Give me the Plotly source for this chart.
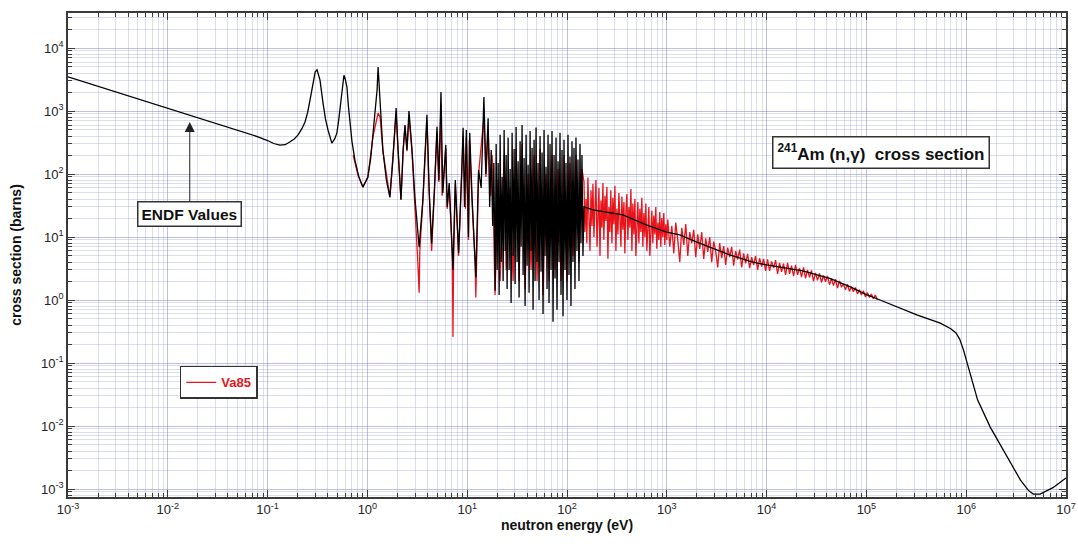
import plotly.graph_objects as go

# ---------------- ENDF evaluated cross section (black) ----------------
endf_E = [
    0.001, 0.002, 0.005, 0.01, 0.02, 0.05, 0.08, 0.1, 0.115, 0.133, 0.15, 0.168, 0.185,
    0.202, 0.22, 0.237, 0.252, 0.266, 0.285, 0.3, 0.313, 0.325, 0.335, 0.359, 0.38, 0.403,
    0.44, 0.47, 0.495, 0.52, 0.543, 0.565, 0.582, 0.6, 0.624, 0.645, 0.668, 0.7, 0.75, 0.82,
    0.9, 1.01, 1.08, 1.14, 1.2, 1.25, 1.28, 1.31, 1.34, 1.43, 1.55, 1.68, 1.80, 1.88, 1.94,
    2.03, 2.17, 2.28, 2.38, 2.49, 2.61, 2.8, 3.0, 3.3, 3.6, 3.8, 3.95, 4.15, 4.4, 4.7, 4.98,
    5.2, 5.46, 5.7, 6.1, 6.3, 6.6, 6.9, 7.2, 7.6, 8.2, 8.8, 9.1, 9.4, 9.8, 10.3, 10.6, 11.2,
    12.2, 13.0, 13.8, 14.7, 15.4, 16.2, 16.8, 17.4, 18.0, 18.5, 19.05,
    19.50, 19.95, 20.42, 20.89, 21.38, 21.88, 22.39, 22.91, 23.44, 23.99, 24.55, 25.12,
    25.70, 26.30, 26.92, 27.54, 28.18, 28.84, 29.51, 30.20, 30.90, 31.62, 32.36, 33.11,
    33.88, 34.67, 35.48, 36.31, 37.15, 38.02, 38.90, 39.81, 40.74, 41.69, 42.66, 43.65,
    44.67, 45.71, 46.77, 47.86, 48.98, 50.12, 51.29, 52.48, 53.70, 54.95, 56.23, 57.54,
    58.88, 60.26, 61.66, 63.10, 64.57, 66.07, 67.61, 69.18, 70.79, 72.44, 74.13, 75.86,
    77.62, 79.43, 81.28, 83.18, 85.11, 87.10, 89.13, 91.20, 93.33, 95.50, 97.72, 100.0,
    102.3, 104.7, 107.2, 109.6, 112.2, 114.8, 117.5, 120.2, 123.0, 125.9, 128.8, 131.8,
    134.9, 138.0, 141.3, 144.5,
    148, 182, 363, 631, 1000, 1350, 2000, 4270, 7240, 1.0e4, 2.3e4, 4.3e4, 7.0e4, 1.0e5,
    1.37e5, 3.2e5, 5.5e5, 7.0e5, 7.9e5, 8.6e5, 9.4e5, 1.1e6, 1.3e6, 1.74e6, 2.6e6, 3.5e6,
    4.2e6, 4.7e6, 5.5e6, 7.4e6, 1.0e7,
]
endf_xs = [
    3500, 2480, 1570, 1120, 790, 500, 390, 340, 305, 288, 292, 325, 360,
    418, 520, 670, 950, 1490, 2900, 4200, 4500, 3800, 3100, 1350, 750, 500,
    310, 360, 450, 800, 1490, 2800, 3700, 3200, 2400, 1200, 650, 330, 166, 90,
    62, 89, 180, 450, 1000, 2150, 5000, 2600, 1490, 240, 80, 43, 166, 600, 1120,
    240, 39, 240, 600, 240, 1000, 240, 40, 6.9, 40, 250, 870, 60, 7.9, 60, 560,
    80, 2000, 50, 290, 30, 72, 15, 3.0, 80, 5.6, 100, 540, 30, 500, 10, 450, 40,
    2.3, 115, 60, 1670, 100, 770, 30, 240, 15, 150, 1.4,
    300, 3, 150, 1.2, 420, 4, 90, 2, 500, 6, 200, 1.5,
    380, 3, 120, 0.9, 450, 5, 250, 1.8, 560, 4, 160, 1.1,
    330, 7, 600, 2.5, 180, 0.8, 420, 3.5, 140, 1.3, 480, 6,
    260, 0.7, 350, 2, 550, 4, 150, 1.0, 400, 2.8, 220, 0.6,
    500, 5, 130, 1.5, 420, 0.9, 300, 3, 480, 0.45, 200, 2.2,
    380, 0.7, 160, 4, 450, 1.2, 240, 0.55, 350, 3, 150, 1.0,
    420, 2.5, 190, 0.8, 330, 4, 260, 1.5, 380, 6, 170, 2,
    300, 8, 200, 5,
    30, 27, 22.4, 15.5, 12, 10.8, 8.3, 5.2, 4.0, 3.6, 2.9, 2.2, 1.6, 1.22,
    1.0, 0.58, 0.43, 0.35, 0.30, 0.24, 0.16, 0.065, 0.026, 0.0096, 0.0032, 0.00138,
    0.00095, 0.00083, 0.00083, 0.00105, 0.0015,
]

# ---------------- Va85 measured data (red) ----------------
va85_E = [
    0.72, 0.80, 0.90, 1.01, 1.14, 1.25, 1.28, 1.34, 1.43, 1.68, 1.80, 1.94, 2.03, 2.17,
    2.28, 2.38, 2.49, 2.61, 2.8, 3.0, 3.2, 3.3, 3.35, 3.6, 3.95, 4.15, 4.4, 4.7, 4.98,
    5.2, 5.46, 5.6, 6.1, 6.3, 6.6, 7.1, 7.2, 7.3, 7.6, 8.2, 9.1, 9.6, 9.8, 10.3, 10.5,
    11.2, 12.0, 12.2, 12.4, 13.0, 14.7, 15.4, 16.2, 17.2, 17.8, 19.0,
    20.42, 21.38, 23.44, 24.55, 26.92, 28.84, 30.90, 33.11, 35.48, 38.02, 40.74, 43.65,
    46.77, 50.12, 53.70, 57.54, 61.66, 66.07, 70.79, 75.86, 81.28, 87.10, 93.33, 100.0,
    107.2, 114.8, 123.0, 131.8, 141.3,
    148, 151, 155, 158, 162, 166, 170, 174, 178, 182, 186, 191, 195, 200, 204, 209, 214,
    219, 224, 229, 234, 240, 245, 251, 257, 263, 269, 275, 282, 288, 295, 302, 309, 316,
    324, 331, 339, 347, 355, 363, 372, 380, 389, 398, 407, 417, 427, 437, 447, 457, 468,
    479, 490, 501, 513, 525, 537, 550, 562, 575, 589, 603, 617, 631, 646, 661, 676, 692,
    708, 724, 741, 759, 776, 794, 813, 832, 851, 871, 891, 912, 933, 955, 977, 1000,
    1023, 1072, 1122, 1175, 1230, 1288, 1349, 1413, 1479, 1549, 1622, 1698, 1778, 1862,
    1950, 2042, 2138, 2239, 2344, 2455, 2570, 2692, 2818, 2951, 3090, 3236, 3388, 3548,
    3715, 3890, 4074, 4266, 4467, 4677, 4898, 5129, 5370, 5623, 5888, 6166, 6457, 6761,
    7079, 7413, 7762, 8128, 8511, 8913, 9333, 9772,
    10230, 10720, 11220, 11750, 12300, 12880, 13490, 14130, 14790, 15490, 16220, 16980,
    17780, 18620, 19500, 20420, 21380, 22390, 23440, 24550, 25700, 26920, 28180, 29510,
    30900, 32360, 33880, 35480, 37150, 38900, 40740, 42660, 44670, 46770, 48980, 51290,
    53700, 56230, 58880, 61660, 64570, 67610, 70790, 74130, 77620, 81280, 85110, 89130,
    93330, 97720, 102300, 107200, 112200, 117500, 123000, 128800,
]
va85_xs = [
    200, 100, 62, 89, 400, 850, 930, 800, 230, 43, 160, 900, 230, 39,
    230, 560, 230, 800, 220, 35, 4, 1.3, 6, 38, 700, 55, 6, 55, 450,
    75, 1200, 45, 250, 28, 65, 5, 0.26, 4, 70, 5, 400, 28, 380, 9, 350,
    35, 4, 1.1, 3, 100, 800, 90, 500, 45, 200, 1.2,
    80, 2, 200, 3, 60, 2, 250, 2, 300, 1.5, 100, 3,
    200, 2, 250, 1.2, 100, 2, 200, 3, 120, 2, 200, 2,
    150, 5, 200, 4, 120,
    75, 12, 40, 8, 88, 20, 6, 55, 15, 70, 10, 32, 80, 7, 25, 60, 5,
    38, 14, 72, 9, 45, 18, 62, 4.5, 30, 12, 55, 8, 42, 16, 65, 6, 28,
    11, 50, 20, 7, 44, 13, 36, 5.5, 26, 48, 9, 30, 14, 58, 6, 34, 11,
    40, 5, 22, 36, 8, 28, 12, 42, 7, 24, 10, 34, 6, 20, 30, 5, 18,
    26, 8, 22, 11, 30, 6.5, 17, 9, 25, 7, 20, 10, 24, 7.5, 16, 9,
    19, 7, 15, 5.5, 17, 9, 4, 14, 7.5, 16, 5, 12, 8, 13,
    4.8, 11, 6.5, 12, 4.5, 9.5, 5.8, 10, 4, 8.5, 6, 3.3, 8, 4.6,
    7.2, 3.6, 6.8, 4.8, 7, 3.5, 6, 4.4, 6.3, 3.3, 5.5, 3.8, 5.4, 3.2,
    4.8, 3.6, 5.0, 3.0, 4.6, 3.4, 4.5, 2.9,
    4.4, 2.9, 4.1, 3.2, 4.3, 2.6, 3.9, 2.8, 3.8, 2.5, 3.9, 2.6,
    3.5, 2.4, 3.6, 2.5, 3.2, 2.3, 3.3, 2.2, 3.0, 2.3, 2.95, 2.0,
    2.7, 2.05, 2.65, 1.9, 2.45, 1.95, 2.4, 1.75, 2.2, 1.7, 2.15, 1.55,
    2.0, 1.6, 1.8, 1.45, 1.78, 1.38, 1.62, 1.35, 1.58, 1.25, 1.45, 1.2,
    1.4, 1.12, 1.32, 1.1, 1.24, 1.05, 1.2, 1.0,
]

# ---------------- axes ----------------
x_decades = [1e-3, 1e-2, 1e-1, 1e0, 1e1, 1e2, 1e3, 1e4, 1e5, 1e6, 1e7]
x_ticktext = ["10<sup>-3</sup>", "10<sup>-2</sup>", "10<sup>-1</sup>", "10<sup>0</sup>",
              "10<sup>1</sup>", "10<sup>2</sup>", "10<sup>3</sup>", "10<sup>4</sup>",
              "10<sup>5</sup>", "10<sup>6</sup>", "10<sup>7</sup>"]
y_decades = [1e-3, 1e-2, 1e-1, 1e0, 1e1, 1e2, 1e3, 1e4]
y_ticktext = ["10<sup>-3</sup>", "10<sup>-2</sup>", "10<sup>-1</sup>", "10<sup>0</sup>",
              "10<sup>1</sup>", "10<sup>2</sup>", "10<sup>3</sup>", "10<sup>4</sup>"]

x_minor = [m * d for d in x_decades[:-1] for m in range(2, 10)]
y_minor = [m * d for d in [1e-4] + y_decades for m in range(2, 10)]

FONT = "Liberation Sans, Arial, Helvetica, sans-serif"
AXC = "#3a3a3a"
GRID_MAJ = "rgba(130,130,200,0.5)"
GRID_MIN = "rgba(150,150,210,0.32)"

fig = go.Figure()
fig.add_trace(go.Scatter(x=va85_E, y=va85_xs, mode="lines", name="<b>Va85</b>",
                         line=dict(color="#e8141a", width=1.3)))
fig.add_trace(go.Scatter(x=endf_E, y=endf_xs, mode="lines", name="ENDF", showlegend=False,
                         line=dict(color="#000000", width=1.3)))

axis_common = dict(
    type="log", showline=True, linecolor=AXC, linewidth=1.5, mirror="allticks",
    ticks="inside", ticklen=7, tickwidth=1.2, tickcolor=AXC, automargin=False,
    showgrid=True, gridcolor=GRID_MAJ, gridwidth=1, zeroline=False,
    tickfont=dict(family=FONT, size=13, color="#222"),
)

fig.update_xaxes(
    **axis_common, range=[-3, 7], tickvals=x_decades, ticktext=x_ticktext,
    minor=dict(tickvals=x_minor, ticks="inside", ticklen=4, tickcolor=AXC, showgrid=True,
               gridcolor=GRID_MIN, gridwidth=1),
    title=dict(text="<b>neutron energy (eV)</b>", font=dict(family=FONT, size=14, color="#111"),
               standoff=0),
)
fig.update_yaxes(
    **axis_common, range=[-3.127, 4.556], tickvals=y_decades, ticktext=y_ticktext,
    minor=dict(tickvals=y_minor, ticks="inside", ticklen=4, tickcolor=AXC, showgrid=True,
               gridcolor=GRID_MIN, gridwidth=1),
    title=dict(text="<b>cross section (barns)</b>", font=dict(family=FONT, size=14, color="#111"),
               standoff=16),
)

fig.add_annotation(
    xref="paper", yref="paper", x=0.815, y=0.711, xanchor="center", yanchor="middle",
    showarrow=False,
    text="<b><sup>241</sup>Am (n,γ)  cross section</b>",
    font=dict(family=FONT, size=17, color="#111"),
    bordercolor="#333", borderwidth=1.5, borderpad=4, bgcolor="white",
)
fig.add_annotation(
    x=-1.78, y=2.826, xref="x", yref="y",
    text="<b>ENDF Values</b>", font=dict(family=FONT, size=15.5, color="#111"),
    showarrow=True, arrowhead=2, arrowsize=2.0, arrowwidth=1, arrowcolor="#222",
    ax=0, ay=92, bordercolor="#333", borderwidth=1.5, borderpad=3, bgcolor="white",
)

fig.update_layout(
    width=1078, height=550,
    margin=dict(l=68, r=12, t=13, b=53),
    paper_bgcolor="white", plot_bgcolor="white",
    font=dict(family=FONT, color="#222"),
    legend=dict(x=0.112, y=0.271, xanchor="left", yanchor="top",
                bordercolor="#333", borderwidth=1.5, bgcolor="white",
                font=dict(family=FONT, size=13, color="#e8141a"),
                itemwidth=30, tracegroupgap=0),
    showlegend=True,
)

fig.write_html("out.html", config={"displayModeBar": False},
               post_script="document.body.style.margin='0px';")
